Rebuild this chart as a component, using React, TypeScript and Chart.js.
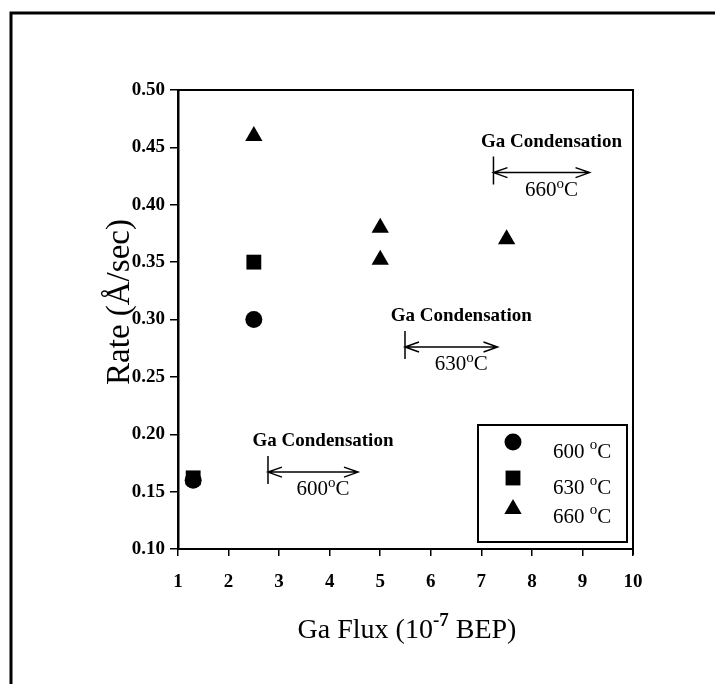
import { useEffect, useRef } from "react";
import { Chart, registerables } from "chart.js";

Chart.register(...registerables);

// Data
const flux600 = [1.3, 2.5];
const rate600 = [0.16, 0.3];
const flux630 = [1.3, 2.5];
const rate630 = [0.162, 0.35];
const flux660 = [2.5, 5, 5, 7.5];
const rate660 = [0.46, 0.38, 0.352, 0.37];
const seriesTemps = ["600", "630", "660"];
const xTicks = [1, 2, 3, 4, 5, 6, 7, 8, 9, 10];
const yTicks = [0.1, 0.15, 0.2, 0.25, 0.3, 0.35, 0.4, 0.45, 0.5];
// Ga condensation limits (arrow start / end in flux, height in rate)
const condStart = [2.78, 5.49, 7.24];
const condEnd = [4.56, 7.32, 9.14];
const condRate = [0.167, 0.276, 0.428];
const condTemps = ["600", "630", "660"];

const SERIF = "'Liberation Serif', 'Times New Roman', serif";

type Part = { t: string; font: string; dy: number };

function partsWidth(ctx: CanvasRenderingContext2D, parts: Part[]) {
  let w = 0;
  for (const p of parts) {
    ctx.font = p.font;
    w += ctx.measureText(p.t).width;
  }
  return w;
}

function drawParts(ctx: CanvasRenderingContext2D, parts: Part[], x: number, y: number, align: "left" | "center") {
  const w = partsWidth(ctx, parts);
  let cx = align === "center" ? x - w / 2 : x;
  ctx.textAlign = "left";
  ctx.textBaseline = "alphabetic";
  for (const p of parts) {
    ctx.font = p.font;
    ctx.fillText(p.t, cx, y + p.dy);
    cx += ctx.measureText(p.t).width;
  }
}

function drawMarker(ctx: CanvasRenderingContext2D, style: string, r: number, x: number, y: number) {
  ctx.beginPath();
  if (style === "circle") {
    ctx.arc(x, y, r, 0, Math.PI * 2);
  } else if (style === "rect") {
    const s = Math.SQRT1_2 * r;
    ctx.rect(x - s, y - s, 2 * s, 2 * s);
  } else {
    ctx.moveTo(x - Math.sin(Math.PI / 3) * r, y + r / 2);
    ctx.lineTo(x, y - r);
    ctx.lineTo(x + Math.sin(Math.PI / 3) * r, y + r / 2);
    ctx.closePath();
  }
  ctx.fill();
}

const decorPlugin = {
  id: "decor",
  beforeDraw(chart: any) {
    const ctx = chart.ctx as CanvasRenderingContext2D;
    ctx.save();
    ctx.fillStyle = "#fff";
    ctx.fillRect(0, 0, chart.width, chart.height);
    ctx.restore();
  },
  afterDraw(chart: any) {
    const ctx = chart.ctx as CanvasRenderingContext2D;
    const { left, right, top, bottom } = chart.chartArea;
    const xs = chart.scales.x;
    const ys = chart.scales.y;
    ctx.save();
    ctx.strokeStyle = "#000";
    ctx.fillStyle = "#000";

    // outer frame (top + left)
    ctx.lineWidth = 3;
    ctx.beginPath();
    ctx.moveTo(11, chart.height);
    ctx.lineTo(11, 13);
    ctx.lineTo(chart.width, 13);
    ctx.stroke();

    // top and right borders of plot
    ctx.lineWidth = 2;
    ctx.beginPath();
    ctx.moveTo(left, top);
    ctx.lineTo(right, top);
    ctx.lineTo(right, bottom + 6);
    ctx.stroke();

    // condensation annotations
    for (let i = 0; i < condStart.length; i++) {
      const x0 = xs.getPixelForValue(condStart[i]);
      const x1 = xs.getPixelForValue(condEnd[i]);
      const y = ys.getPixelForValue(condRate[i]);
      ctx.lineWidth = 1.5;
      ctx.beginPath();
      ctx.moveTo(x0, y - 16);
      ctx.lineTo(x0, y + 12);
      ctx.moveTo(x0, y);
      ctx.lineTo(x1, y);
      ctx.moveTo(x0 + 14, y - 5);
      ctx.lineTo(x0, y);
      ctx.lineTo(x0 + 14, y + 5);
      ctx.moveTo(x1 - 14, y - 5);
      ctx.lineTo(x1, y);
      ctx.lineTo(x1 - 14, y + 5);
      ctx.stroke();
      const mid = (x0 + x1) / 2 + 10;
      ctx.font = `bold 19px ${SERIF}`;
      ctx.textAlign = "center";
      ctx.textBaseline = "alphabetic";
      ctx.fillText("Ga Condensation", mid, y - 26);
      drawParts(
        ctx,
        [
          { t: condTemps[i], font: `21px ${SERIF}`, dy: 0 },
          { t: "o", font: `15px ${SERIF}`, dy: -8 },
          { t: "C", font: `21px ${SERIF}`, dy: 0 },
        ],
        mid,
        y + 23,
        "center"
      );
    }

    // legend
    const lx0 = 478, ly0 = 425, lx1 = 627, ly1 = 542;
    ctx.lineWidth = 2;
    ctx.strokeRect(lx0, ly0, lx1 - lx0, ly1 - ly0);
    const styles = ["circle", "rect", "triangle"];
    const radii = [8.5, 10.5, 10];
    const markY = [442, 478, 509];
    const textY = [458, 494, 523];
    for (let i = 0; i < 3; i++) {
      drawMarker(ctx, styles[i], radii[i], 513, markY[i]);
      drawParts(
        ctx,
        [
          { t: seriesTemps[i] + " ", font: `21px ${SERIF}`, dy: 0 },
          { t: "o", font: `15px ${SERIF}`, dy: -9 },
          { t: "C", font: `21px ${SERIF}`, dy: 0 },
        ],
        553,
        textY[i],
        "left"
      );
    }

    // axis titles
    ctx.save();
    ctx.translate(129, 302);
    ctx.rotate(-Math.PI / 2);
    ctx.font = `33px ${SERIF}`;
    ctx.textAlign = "center";
    ctx.textBaseline = "alphabetic";
    ctx.fillText("Rate (Å/sec)", 0, 0);
    ctx.restore();

    drawParts(
      ctx,
      [
        { t: "Ga Flux (10", font: `28px ${SERIF}`, dy: 0 },
        { t: "-7", font: `bold 19px ${SERIF}`, dy: -12 },
        { t: " BEP)", font: `28px ${SERIF}`, dy: 0 },
      ],
      407,
      638,
      "center"
    );

    ctx.restore();
  },
};

export default function App() {
  const ref = useRef<HTMLCanvasElement | null>(null);
  useEffect(() => {
    if (!ref.current) return;
    const toPts = (xs: number[], ys: number[]) => xs.map((x, i) => ({ x, y: ys[i] }));
    const tickFont = { family: SERIF, size: 19, weight: "bold" as const };
    const chart = new Chart(ref.current, {
      type: "scatter",
      data: {
        datasets: [
          {
            label: seriesTemps[0],
            data: toPts(flux600, rate600),
            pointStyle: "circle",
            pointRadius: 8.5,
            backgroundColor: "#000",
            borderColor: "#000",
            borderWidth: 0,
          },
          {
            label: seriesTemps[1],
            data: toPts(flux630, rate630),
            pointStyle: "rect",
            pointRadius: 10.5,
            backgroundColor: "#000",
            borderColor: "#000",
            borderWidth: 0,
          },
          {
            label: seriesTemps[2],
            data: toPts(flux660, rate660),
            pointStyle: "triangle",
            pointRadius: 10,
            backgroundColor: "#000",
            borderColor: "#000",
            borderWidth: 0,
          },
        ],
      },
      options: {
        animation: false,
        responsive: false,
        maintainAspectRatio: false,
        layout: { padding: { left: 118, right: 82, top: 90, bottom: 85 } },
        plugins: { legend: { display: false }, tooltip: { enabled: false } },
        scales: {
          x: {
            type: "linear",
            min: 1,
            max: 10,
            afterBuildTicks: (s: any) => {
              s.ticks = xTicks.map((v) => ({ value: v }));
            },
            afterFit: (s: any) => {
              s.height = 50;
            },
            grid: { drawOnChartArea: false, tickLength: 7, color: "#000", lineWidth: 1.5 },
            border: { color: "#000", width: 2 },
            ticks: { font: tickFont, color: "#000", padding: 15, maxRotation: 0, callback: (v: any) => String(v) },
          },
          y: {
            type: "linear",
            min: 0.1,
            max: 0.5,
            afterBuildTicks: (s: any) => {
              s.ticks = yTicks.map((v) => ({ value: v }));
            },
            afterFit: (s: any) => {
              s.width = 60;
            },
            grid: { drawOnChartArea: false, tickLength: 8, color: "#000", lineWidth: 1.5 },
            border: { color: "#000", width: 2.5 },
            ticks: { font: tickFont, color: "#000", padding: 5, callback: (v: any) => Number(v).toFixed(2) },
          },
        },
      },
      plugins: [decorPlugin],
    });
    return () => chart.destroy();
  }, []);
  return (
    <div style={{ position: "absolute", left: 0, top: 0, width: 715, height: 684 }}>
      <canvas ref={ref} width={715} height={684} style={{ display: "block" }} />
    </div>
  );
}
